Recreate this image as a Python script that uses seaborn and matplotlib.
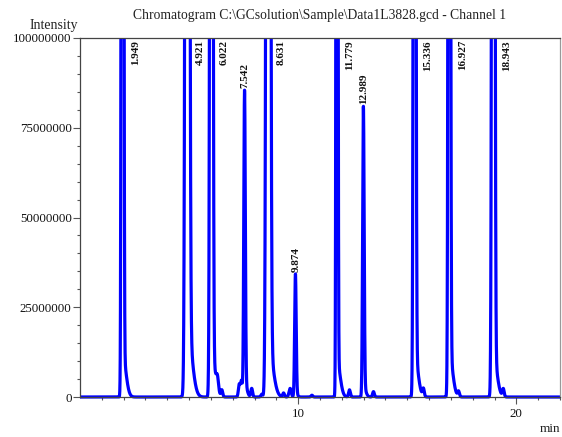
import numpy as np
import pandas as pd
import matplotlib
matplotlib.use("Agg")
import matplotlib.pyplot as plt
from matplotlib.patches import Rectangle
import seaborn as sns

# ---------------- data ----------------
title_text = r"Chromatogram C:\GCsolution\Sample\Data1L3828.gcd - Channel 1"

peak_labels = ["1.949", "4.921", "6.022", "7.542", "8.631", "9.874",
               "11.779", "12.989", "15.336", "16.927", "18.943"]
peak_rt = [1.949, 4.921, 6.022, 7.542, 8.631, 9.874,
           11.779, 12.989, 15.336, 16.927, 18.943]
# core height (counts); peaks that run off the top are estimates
peak_core = [1.0e9, 1.0e9, 8.0e8, 8.15e7, 1.0e9, 3.33e7,
             6.0e8, 7.8e7, 6.0e8, 6.0e8, 8.0e8]
peak_sigma = [0.035, 0.060, 0.045, 0.035, 0.060, 0.035,
              0.030, 0.035, 0.040, 0.038, 0.045]
tail_height = [1.2e7, 2.0e7, 1.2e7, 4.0e6, 1.5e7, 1.0e6,
               1.0e7, 3.0e6, 1.2e7, 1.2e7, 1.2e7]
tail_sigma = [0.150, 0.200, 0.160, 0.100, 0.200, 0.080,
              0.140, 0.100, 0.150, 0.150, 0.160]

minor_rt = [6.30, 6.50, 7.30, 7.40, 7.87, 8.33, 9.33, 9.63, 10.63,
            12.35, 13.45, 15.74, 17.35, 19.40]
minor_height = [3.5e6, 1.9e6, 3.5e6, 4.5e6, 2.4e6, 0.8e6, 1.1e6, 2.4e6, 0.5e6,
                2.0e6, 1.5e6, 2.2e6, 1.5e6, 2.2e6]
minor_sigma = [0.05, 0.04, 0.04, 0.04, 0.04, 0.04, 0.04, 0.05, 0.04,
               0.04, 0.04, 0.04, 0.04, 0.04]

y_ticks = [0, 25000000, 50000000, 75000000, 100000000]
y_ticklabels = ["0", "25000000", "50000000", "75000000", "100000000"]
x_ticks = [10, 20]
x_ticklabels = ["10", "20"]

y_top = 100000000
x_max = 22.0

# ---------------- build the trace from the peak table ----------------
time = np.linspace(0, 22.3, 9000)
signal = np.zeros_like(time)
for rt, core, s, th, ts in zip(peak_rt, peak_core, peak_sigma, tail_height, tail_sigma):
    d = time - rt
    signal += core * np.exp(-0.5 * (d / s) ** 2)
    signal += th * np.where(d >= 0, np.exp(-0.5 * (d / ts) ** 2), np.exp(-0.5 * (d / s) ** 2))
for rt, h, s in zip(minor_rt, minor_height, minor_sigma):
    signal += h * np.exp(-0.5 * ((time - rt) / s) ** 2)

df = pd.DataFrame({"time": time, "intensity": signal})

# ---------------- plot ----------------
sns.set_style("ticks")
serif = ["Liberation Serif", "DejaVu Serif"]
plt.rcParams["font.family"] = serif

fig = plt.figure(figsize=(5.62, 4.37), dpi=100)
ax = fig.add_axes([80 / 562, 1 - 397 / 437, 480 / 562, 359 / 437])

sns.lineplot(data=df, x="time", y="intensity", ax=ax, color="#0000ff",
             linewidth=2.3, estimator=None, sort=False)
ax.set_xlim(0, x_max)
ax.set_ylim(0, y_top)

clip = Rectangle((0, -0.02), 1, 1.02, transform=ax.transAxes, facecolor="none", edgecolor="none")
ax.add_patch(clip)
for ln in ax.lines:
    ln.set_clip_path(clip)

ax.set_xlabel("")
ax.set_ylabel("")
ax.set_xticks(x_ticks)
ax.set_xticklabels(x_ticklabels)
ax.set_xticks([v for v in range(1, 23) if v % 10 != 0], minor=True)
ax.set_yticks(y_ticks)
ax.set_yticklabels(y_ticklabels)
ax.set_yticks([v for v in range(0, 100000001, 5000000) if v % 25000000 != 0], minor=True)

ax.tick_params(axis="both", which="major", length=5, width=0.8, color="#555555",
               labelsize=9.3, labelcolor="#111111", direction="out")
ax.tick_params(axis="y", which="major", pad=1)
ax.tick_params(axis="x", which="major", pad=3)
ax.tick_params(axis="both", which="minor", length=2.5, width=0.8, color="#555555", direction="out")

for side in ["left", "bottom", "top"]:
    ax.spines[side].set_color("#444444")
    ax.spines[side].set_linewidth(0.9)
ax.spines["right"].set_color("#999999")
ax.spines["right"].set_linewidth(0.9)
ax.spines["right"].set_visible(True)
ax.spines["top"].set_visible(True)

# peak labels
for lab, rt, core, th in zip(peak_labels, peak_rt, peak_core, tail_height):
    apex = core + th
    if apex > y_top:
        ax.annotate(lab, xy=(rt, y_top), xytext=(9.4, -1.5), textcoords="offset points",
                    rotation=90, ha="center", va="top", fontsize=8, fontweight="bold",
                    family=serif, color="#111111", annotation_clip=False)
    else:
        ax.annotate(lab, xy=(rt, apex), xytext=(0.5, 1.5), textcoords="offset points",
                    rotation=90, ha="center", va="bottom", fontsize=8, fontweight="bold",
                    family=serif, color="#111111")

fig.text(320 / 562, 1 - 16 / 437, title_text, ha="center", va="center",
         fontsize=9.8, color="#222222", family=serif)
fig.text(53.5 / 562, 1 - 25.5 / 437, "Intensity", ha="center", va="center",
         fontsize=10, color="#222222", family=serif)
fig.text(550 / 562, 1 - 429 / 437, "min", ha="center", va="center",
         fontsize=9.5, color="#222222", family=serif)

fig.savefig("out.png", dpi=100)
